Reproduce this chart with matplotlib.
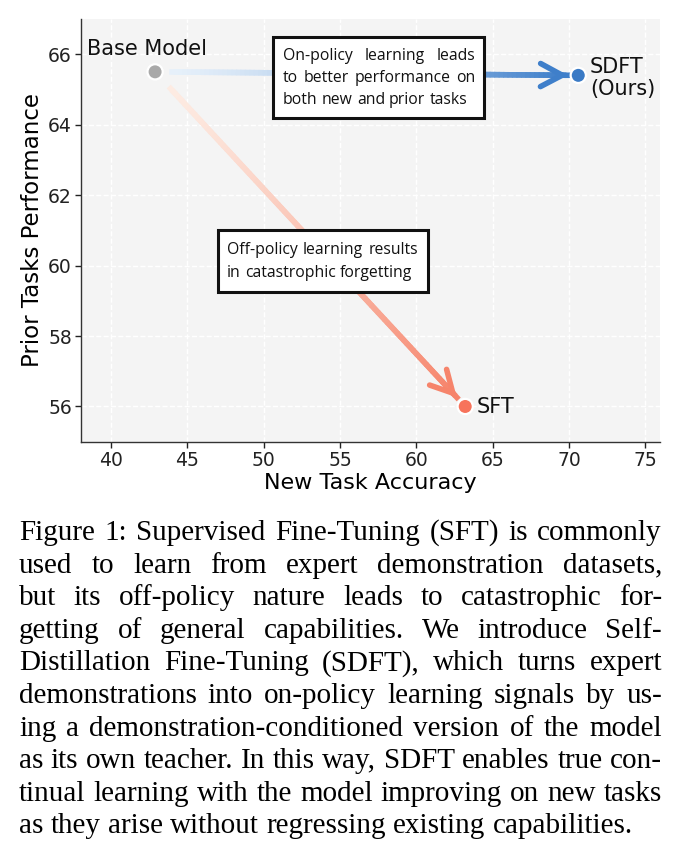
"""Figure 1 recreation: new-task accuracy vs prior-task performance."""

import matplotlib

matplotlib.use("Agg")
import matplotlib.pyplot as plt
import numpy as np
from matplotlib.collections import LineCollection
from matplotlib.colors import LinearSegmentedColormap
from matplotlib.patches import Rectangle

W, H, DPI = 681, 858, 100

# --- data -------------------------------------------------------------------
methods = ["Base Model", "SDFT", "SFT"]
new_task_acc = [42.9, 70.6, 63.2]
prior_task_perf = [65.5, 65.4, 56.0]
point_labels = ["Base Model", "SDFT\n(Ours)", "SFT"]
point_colors = ["#a9a9a9", "#3a7ac5", "#f7735b"]

x_ticks = [40, 45, 50, 55, 60, 65, 70, 75]
y_ticks = [56, 58, 60, 62, 64, 66]

on_policy_note = [
    "On-policy learning leads",
    "to better performance on",
    "both new and prior tasks",
]
off_policy_note = [
    "Off-policy learning results",
    "in catastrophic forgetting",
]

caption_lines = [
    "Figure 1: Supervised Fine-Tuning (SFT) is commonly",
    "used to learn from expert demonstration datasets,",
    "but its off-policy nature leads to catastrophic for-",
    "getting of general capabilities.  We introduce Self-",
    "Distillation Fine-Tuning (SDFT), which turns expert",
    "demonstrations into on-policy learning signals by us-",
    "ing a demonstration-conditioned version of the model",
    "as its own teacher. In this way, SDFT enables true con-",
    "tinual learning with the model improving on new tasks",
    "as they arise without regressing existing capabilities.",
]


def gradient_arrow(ax, p0, p1, light, dark, f0, f1, n=90):
    """Line fading from light to dark between two points, with an open head."""
    t = np.linspace(f0, f1, n)
    xs = p0[0] + (p1[0] - p0[0]) * t
    ys = p0[1] + (p1[1] - p0[1]) * t
    pts = np.column_stack([xs, ys]).reshape(-1, 1, 2)
    segs = np.concatenate([pts[:-1], pts[1:]], axis=1)
    cmap = LinearSegmentedColormap.from_list("fade", [light, dark])
    lc = LineCollection(segs, colors=cmap(np.linspace(0, 1, n - 1) ** 1.3),
                        linewidths=4.0, capstyle="projecting", zorder=2)
    ax.add_collection(lc)
    ax.annotate(
        "",
        xy=(xs[-1], ys[-1]),
        xytext=(xs[-3], ys[-3]),
        arrowprops=dict(arrowstyle="->,head_length=0.6,head_width=0.32",
                        lw=4.0, color=dark, mutation_scale=26,
                        shrinkA=0, shrinkB=0),
        zorder=3,
    )


def text_width(fig, renderer, s, props):
    t = fig.text(0, 0, s, **props)
    w = t.get_window_extent(renderer).width
    t.remove()
    return w


def fit_size(fig, renderer, lines, family, width, start=20.0):
    """Largest font size at which every line fits the given pixel width."""
    props = dict(fontsize=start, family=family)
    widest = max(text_width(fig, renderer, " ".join(l.split()), props)
                 for l in lines)
    return start * width / widest


def place_justified(fig, renderer, lines, x0, x1, base0, step, props,
                    last_natural=True):
    """Place lines word by word so they fill x0..x1 (pixels, y from top)."""
    space = (text_width(fig, renderer, "x x", props)
             - text_width(fig, renderer, "xx", props))
    for i, line in enumerate(lines):
        words = line.split()
        yb = 1 - (base0 + i * step) / H
        arts = [fig.text(0, yb, w, va="baseline", ha="left", **props)
                for w in words]
        widths = [a.get_window_extent(renderer).width for a in arts]
        if (last_natural and i == len(lines) - 1) or len(words) < 2:
            gap = space
        else:
            gap = (x1 - x0 - sum(widths)) / (len(words) - 1)
        x = x0
        for a, w in zip(arts, widths):
            a.set_x(x / W)
            x += w + gap


fig = plt.figure(figsize=(W / DPI, H / DPI), dpi=DPI)
ax = fig.add_axes([81 / W, 1 - 441.7 / H, (660 - 81) / W, (441.7 - 19) / H])
ax.set_facecolor("#f4f4f4")

ax.set_xlim(38.05, 75.95)
ax.set_ylim(55.0, 67.0)
ax.set_xticks(x_ticks)
ax.set_yticks(y_ticks)
ax.tick_params(labelsize=13.5, length=4, width=1, pad=2.5, colors="#222222")
ax.grid(True, color="white", linestyle="--", linewidth=1.0)
ax.set_axisbelow(True)
for side in ("top", "right"):
    ax.spines[side].set_visible(False)
for side in ("left", "bottom"):
    ax.spines[side].set_color("#333333")
    ax.spines[side].set_linewidth(1.0)

ax.set_xlabel("New Task Accuracy", fontsize=16, labelpad=2)
ax.set_ylabel("Prior Tasks Performance", fontsize=16.5, labelpad=3)

base = (new_task_acc[0], prior_task_perf[0])
sdft = (new_task_acc[1], prior_task_perf[1])
sft = (new_task_acc[2], prior_task_perf[2])

gradient_arrow(ax, base, sdft, "#e6f0fa", "#3f7fca", 0.04, 0.976)
gradient_arrow(ax, base, sft, "#fdebe2", "#f6846b", 0.05, 0.973)

ax.scatter(new_task_acc, prior_task_perf, s=120, c=point_colors,
           edgecolors="white", linewidths=1.6, zorder=5)

label_offsets = [(-6, 16.5), (8.5, -2), (8.5, -0.5)]
label_ha = ["center", "left", "left"]
for x, y, lab, off, ha in zip(new_task_acc, prior_task_perf, point_labels,
                              label_offsets, label_ha):
    ax.annotate(lab, (x, y), xytext=off, textcoords="offset points",
                ha=ha, va="center", fontsize=15, color="#111111",
                linespacing=1.1, zorder=6)

# annotation boxes (pixel geometry, y measured from the top)
for (bx0, by0, bx1, by1) in [(273, 37, 484, 118), (218, 230, 428, 292)]:
    fig.patches.append(Rectangle((bx0 / W, 1 - by1 / H), (bx1 - bx0) / W,
                                 (by1 - by0) / H, transform=fig.transFigure,
                                 facecolor="white", edgecolor="#111111",
                                 linewidth=2.2, zorder=10))

renderer = fig.canvas.get_renderer()
note_family = "Open Sans"
note_size = min(12.0, fit_size(fig, renderer, on_policy_note + off_policy_note,
                               note_family, 188))
note_props = dict(fontsize=note_size, family=note_family,
                  color="#111111", zorder=11)
place_justified(fig, renderer, on_policy_note, 283, 475, 60, 22, note_props)
place_justified(fig, renderer, off_policy_note, 227, 418, 254, 23, note_props)

# caption, fitted to the column width
cap_x0, cap_x1 = 19, 662
cap_size = fit_size(fig, renderer, caption_lines, "Liberation Serif",
                    cap_x1 - cap_x0) * 0.995
cap_props = dict(fontsize=cap_size, family="Liberation Serif", color="black")
place_justified(fig, renderer, caption_lines, cap_x0, cap_x1, 540, 32.6,
                cap_props, last_natural=True)

fig.savefig("out.png", dpi=DPI)
plt.close(fig)
